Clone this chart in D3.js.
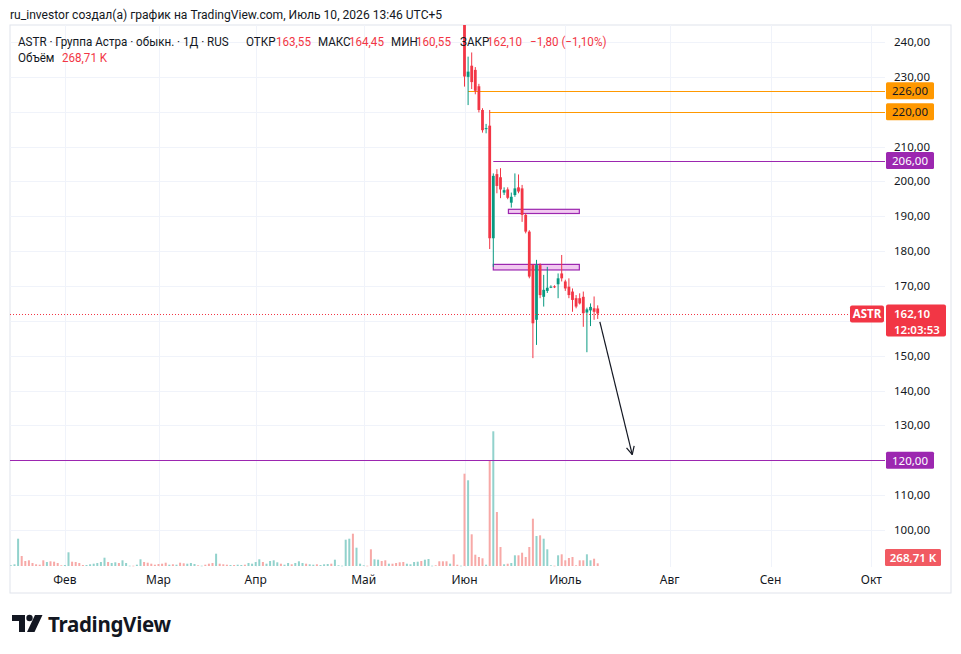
<!DOCTYPE html>
<html><head><meta charset="utf-8">
<script src="https://cdn.jsdelivr.net/npm/d3@7/dist/d3.min.js"></script>
<style>
body{margin:0;background:#fff;}
svg{display:block;font-family:"Noto Sans",sans-serif;}
</style></head>
<body><svg id="c" width="961" height="654"></svg>
<script>
// ---------- DATA ----------
const priceTicks = [100,110,120,130,140,150,160,170,180,190,200,210,220,230,240];
const monthLabels = ["Фев","Мар","Апр","Май","Июн","Июль","Авг","Сен","Окт"];
const monthIdx = [15,41,68,98,126,154,183,211,239];

// candles (bar index 126 = 1 June .. 163 = 10 July)
const candleStart = 126;
const candleOpen  = [247,230.0,233.2,232.0,227.3,220.5,215.0,216.0,183.7,202.1,201.2,196.8,197.7,193.9,196.1,198.3,198.0,190.4,185.6,176.0,160.3,176.0,166.9,168.6,169.7,169.9,170.5,173.6,171.3,169.8,168.4,166.5,166.5,166.9,162.4,163.0,163.6,163.55];
const candleHigh  = [252,235.8,237.0,232.8,228.0,221.0,216.5,220.5,202.3,203.5,203.8,198.3,198.3,196.8,202.3,202.0,199.0,190.9,186.0,176.3,177.5,176.5,173.2,175.5,170.2,170.2,173.6,178.9,171.8,172.2,169.3,167.4,167.9,168.4,163.8,165.0,167.0,164.45];
const candleLow   = [227.2,221.9,226.5,225.0,219.8,214.0,213.8,180.6,175.5,196.6,195.2,196.1,194.9,192.5,195.6,196.6,188.4,185.1,172.2,149.3,153.1,166.5,164.1,168.0,169.4,169.4,166.5,171.3,168.6,166.5,162.6,163.6,164.7,158.3,151.0,158.5,160.3,160.55];
const candleClose = [230.1,231.5,228.5,226.0,220.5,214.7,215.3,183.7,201.6,198.7,197.7,197.5,195.3,195.6,198.0,197.1,190.4,185.6,172.7,159.3,176.0,167.4,168.9,169.5,169.8,169.8,172.2,172.2,169.3,167.4,166.0,164.1,165.0,162.2,163.3,164.0,162.6,162.10];

// volume, thousands of shares, one per bar (index 0..163)
const volumes = [70,170,2730,1000,500,570,300,170,130,570,400,470,430,300,70,100,1370,430,400,300,100,100,170,230,300,400,830,400,300,370,300,570,300,30,30,130,670,400,330,230,130,200,230,330,130,170,130,330,270,230,300,200,70,30,130,230,300,1230,230,170,130,100,100,130,100,130,300,230,400,670,400,230,500,570,370,230,130,300,170,300,470,300,230,170,130,170,100,170,200,230,630,70,30,2630,2730,3230,1830,230,70,30,1670,670,630,500,570,230,230,300,370,400,230,170,400,430,500,630,700,30,70,470,470,470,230,1170,130,30,
  9230,8570,3170,1130,900,770,130,10570,13470,5400,1900,170,230,300,1070,1070,1330,900,1900,4730,3000,3070,2730,1670,70,30,1070,1170,570,800,900,70,570,570,1170,570,730,268.71];
// direction of bars before the visible candles (u = up, d = down)
const volDirPre = ["u","u","u","d","d","d","d","d","d","d","u","d","d","d","d","u","u","d","d","d","d","u","u","u","u","u","u","d","u","u","d","u","u","u","d","u","u","d","d","d","d","d","d","d","u","d","u","d","d","u","u","u","d","u","d","d","d","u","d","d","d","u","d","u","u","d","u","u","u","u","d","u","u","u","u","d","u","u","d","u","u","u","d","u","u","d","u","u","u","d","u","u","u","u","u","d","u","u","u","d","d","u","u","d","d","u","d","d","d","d","u","u","u","u","d","u","u","u","d","d","d","d","u","d","d","u"];

// legend
const legendLabels = ["ASTR · Группа Астра · обыкн. · 1Д · RUS","ОТКР","163,55","МАКС","164,45","МИН","160,55","ЗАКР","162,10","−1,80 (−1,10%)"];
const legendIsValue = [false,false,true,false,true,false,true,false,true,true];

// drawings
const levels = [
  {price:226, startIdx:127, color:"#ff9800", text:"#131722"},
  {price:220, startIdx:133, color:"#ff9800", text:"#131722"},
  {price:206, startIdx:134, color:"#9c27b0", text:"#ffffff"},
  {price:120, startIdx:null, color:"#9c27b0", text:"#ffffff"}
];
const zones = [
  {i0:138.2, i1:157.9, top:192.0, bottom:190.8},
  {i0:134.0, i1:157.9, top:176.2, bottom:174.6}
];
const arrow = {i0:163.6, p0:159.7, i1:172.6, p1:121.6};
const lastPrice = 162.10, lastVolumeLabel = "268,71 K", countdown = "12:03:53";

// ---------- LAYOUT ----------
const svg = d3.select("#c");
const L = 10, R = 885, T = 25, B = 567;
const x = d3.scaleLinear().domain([0,163]).range([10.9,597.7]);
const y = d3.scaleLinear().domain([100,240]).range([530,42]);
const yv = d3.scaleLinear().domain([0,13500]).range([566,431]);
const fmt = v => d3.format(".2f")(v).replace(".",",");
const UP = "#089981", DN = "#f23645";
const UPV = "#92d2cc", DNV = "#f7a9a7";
const TXT = "#131722";
const SQ = 0.93; // horizontal condensing of the UI font

svg.append("defs").append("clipPath").attr("id","plot")
  .append("rect").attr("x",L).attr("y",T).attr("width",R-L).attr("height",B-T);

// frame
svg.append("rect").attr("x",L).attr("y",T).attr("width",951-L).attr("height",593-T)
  .attr("fill","none").attr("stroke","#e0e3eb");

// grid
const g = svg.append("g").attr("clip-path","url(#plot)");
g.selectAll(".hg").data(priceTicks).join("line")
  .attr("x1",L).attr("x2",R).attr("y1",d=>Math.round(y(d))+0.5).attr("y2",d=>Math.round(y(d))+0.5)
  .attr("stroke","#f0f3fa");
g.selectAll(".vg").data(monthIdx).join("line")
  .attr("x1",d=>Math.round(x(d))+0.5).attr("x2",d=>Math.round(x(d))+0.5).attr("y1",T).attr("y2",B)
  .attr("stroke","#f0f3fa");

// header texts
svg.append("text").attr("transform",`translate(10,19) scale(${SQ},1)`)
  .attr("font-size",13).attr("font-family","Roboto").attr("fill",TXT)
  .text("ru_investor создал(а) график на TradingView.com, Июль 10, 2026 13:46 UTC+5");
const legendX = [18,246,276,318,349,391,416,460,487,530];
svg.selectAll(".lgd").data(legendLabels).join("text")
  .attr("transform",(d,i)=>`translate(${legendX[i]},46) scale(${SQ},1)`)
  .attr("font-size",12.5).attr("font-family","Roboto")
  .attr("fill",(d,i)=>legendIsValue[i]?DN:TXT).text(d=>d);
svg.append("text").attr("transform",`translate(18,62) scale(${SQ},1)`)
  .attr("font-size",12.5).attr("font-family","Roboto").attr("fill",TXT).text("Объём");
svg.append("text").attr("transform",`translate(62,62) scale(${SQ},1)`)
  .attr("font-size",12.5).attr("font-family","Roboto").attr("fill",DN).text(lastVolumeLabel);

// volume
const volDir = i => i < candleStart ? volDirPre[i] === "u"
  : candleClose[i-candleStart] >= candleOpen[i-candleStart];
g.selectAll(".vol").data(volumes).join("rect")
  .attr("x",(d,i)=>x(i)-1).attr("width",2)
  .attr("y",d=>yv(d)).attr("height",d=>Math.max(0.6,yv(0)-yv(d)))
  .attr("fill",(d,i)=>volDir(i)?UPV:DNV);

// level lines
g.selectAll(".lvl").data(levels).join("line")
  .attr("x1",d=>d.startIdx===null?L:x(d.startIdx)).attr("x2",R)
  .attr("y1",d=>Math.round(y(d.price))+0.5).attr("y2",d=>Math.round(y(d.price))+0.5)
  .attr("stroke",d=>d.color).attr("stroke-width",1);

// zones
g.selectAll(".zone").data(zones).join("rect")
  .attr("x",d=>x(d.i0)).attr("width",d=>x(d.i1)-x(d.i0))
  .attr("y",d=>y(d.top)).attr("height",d=>y(d.bottom)-y(d.top))
  .attr("fill","#f1c9f0").attr("stroke","#9c27b0").attr("stroke-width",1.2);

// candles
const cd = candleOpen.map((o,k)=>({i:candleStart+k,o,h:candleHigh[k],l:candleLow[k],c:candleClose[k]}));
const cg = g.selectAll(".cnd").data(cd).join("g");
cg.append("line").attr("x1",d=>x(d.i)).attr("x2",d=>x(d.i))
  .attr("y1",d=>y(d.h)).attr("y2",d=>y(d.l))
  .attr("stroke",d=>d.c>=d.o?UP:DN).attr("stroke-width",1);
cg.append("rect").attr("x",d=>x(d.i)-1.4).attr("width",2.8)
  .attr("y",d=>y(Math.max(d.o,d.c))).attr("height",d=>Math.max(1,Math.abs(y(d.o)-y(d.c))))
  .attr("fill",d=>d.c>=d.o?UP:DN);

// last price dotted line
g.append("line").attr("x1",L).attr("x2",848).attr("y1",Math.round(y(lastPrice))+0.5).attr("y2",Math.round(y(lastPrice))+0.5)
  .attr("stroke",DN).attr("stroke-dasharray","1,2");

// arrow
const ax0=x(arrow.i0), ay0=y(arrow.p0), ax1=x(arrow.i1), ay1=y(arrow.p1);
const ang = Math.atan2(ay1-ay0, ax1-ax0);
g.append("line").attr("x1",ax0).attr("y1",ay0).attr("x2",ax1).attr("y2",ay1)
  .attr("stroke",TXT).attr("stroke-width",1.2);
[0.45,-0.45].forEach(da=>{
  g.append("line").attr("x1",ax1).attr("y1",ay1)
    .attr("x2",ax1-9*Math.cos(ang+da)).attr("y2",ay1-9*Math.sin(ang+da))
    .attr("stroke",TXT).attr("stroke-width",1.2);
});

// price axis labels (those hidden under a price box are not drawn, as in the reference)
const boxPrices = levels.map(d=>d.price).concat([lastPrice]);
const visibleTicks = priceTicks.filter(t=>boxPrices.every(b=>Math.abs(y(t)-y(b))>13));
svg.selectAll(".pl").data(visibleTicks).join("text")
  .attr("x",894).attr("y",d=>y(d)+4).attr("font-size",11.5).attr("fill",TXT)
  .text(d=>fmt(d));

// level boxes
const lb = svg.selectAll(".lb").data(levels).join("g");
lb.append("rect").attr("x",886).attr("width",48).attr("y",d=>y(d.price)-8.5).attr("height",17)
  .attr("rx",1.5).attr("fill",d=>d.color);
lb.append("text").attr("x",910).attr("y",d=>y(d.price)+4.5).attr("text-anchor","middle")
  .attr("font-size",11.5).attr("fill",d=>d.text).text(d=>fmt(d.price));

// last price labels
const ly = y(lastPrice);
svg.append("rect").attr("x",850).attr("y",ly-8).attr("width",34).attr("height",17).attr("rx",2).attr("fill",DN);
svg.append("text").attr("x",867).attr("y",ly+4.5).attr("text-anchor","middle").attr("font-size",11.5)
  .attr("font-weight",700).attr("fill","#fff").text("ASTR");
svg.append("rect").attr("x",886).attr("y",ly-9).attr("width",60).attr("height",32).attr("rx",2).attr("fill",DN);
svg.append("text").attr("x",894).attr("y",ly+4).attr("font-size",11.5).attr("font-weight",600).attr("fill","#fff").text(fmt(lastPrice));
svg.append("text").attr("x",894).attr("y",ly+20).attr("font-size",11.5).attr("font-weight",600).attr("fill","#fff").text(countdown);

// volume label
svg.append("rect").attr("x",885).attr("y",549).attr("width",56).attr("height",17).attr("rx",1.5).attr("fill","#f15a62");
svg.append("text").attr("x",913).attr("y",561.5).attr("text-anchor","middle").attr("font-size",11.5).attr("font-weight",600)
  .attr("fill","#fff").text(lastVolumeLabel);

// time axis
svg.selectAll(".ml").data(monthLabels).join("text")
  .attr("x",(d,i)=>x(monthIdx[i])).attr("y",583.5).attr("text-anchor","middle")
  .attr("font-size",12).attr("fill",TXT).text(d=>d);

// TradingView logo
const logo = svg.append("g").attr("fill",TXT);
logo.append("path").attr("d","M12,615 H25 V632 H19 V621 H12 Z");
logo.append("circle").attr("cx",29.5).attr("cy",618).attr("r",3.2);
logo.append("path").attr("d","M35,615 H42.5 L34.5,632 H27 Z");
svg.append("text").attr("x",48).attr("y",632).attr("font-size",20.5).attr("font-weight",700)
  .attr("fill",TXT).attr("letter-spacing","-0.3").text("TradingView");
</script></body></html>
